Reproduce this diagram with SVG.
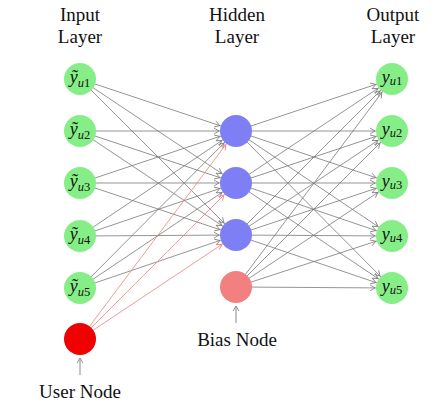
<svg xmlns="http://www.w3.org/2000/svg" width="442" height="416" viewBox="0 0 442 416">
<style>
text{font-family:"Liberation Serif","DejaVu Serif",serif;fill:#111}
.lbl{font-size:19px;text-anchor:middle}
.nt{font-size:18px;text-anchor:middle;font-style:italic}
.sub{font-size:12.5px}
.c{stroke:#7a7a7a;stroke-width:0.8;fill:none;marker-end:url(#ag)}
.r{stroke:#ee8080;stroke-width:0.8;fill:none;marker-end:url(#ar)}
.in{fill:#86ee86}
.hid{fill:#7f7ff5}
.bias{fill:#f38080}
.user{fill:#f00000}
.pt{stroke:#888;stroke-width:1;fill:none;marker-end:url(#ap)}
</style>
<defs>
<marker id="ag" markerUnits="userSpaceOnUse" markerWidth="1" markerHeight="1" refX="0" refY="0" orient="auto" overflow="visible">
<path d="M-22,-3 L-17,0 L-22,3" fill="none" stroke="#7a7a7a" stroke-width="0.8"/>
</marker>
<marker id="ar" markerUnits="userSpaceOnUse" markerWidth="1" markerHeight="1" refX="0" refY="0" orient="auto" overflow="visible">
<path d="M-22,-3 L-17,0 L-22,3" fill="none" stroke="#ee8080" stroke-width="0.8"/>
</marker>
<marker id="ap" markerUnits="userSpaceOnUse" markerWidth="1" markerHeight="1" refX="0" refY="0" orient="auto" overflow="visible">
<path d="M-5,-3 L0,0 L-5,3" fill="none" stroke="#888" stroke-width="0.9"/>
</marker>
</defs>
<g id="connectors">
<path class="c" d="M80,79L236,131"/><path class="c" d="M80,79L236,183"/><path class="c" d="M80,79L236,235"/>
<path class="c" d="M80,131L236,131"/><path class="c" d="M80,131L236,183"/><path class="c" d="M80,131L236,235"/>
<path class="c" d="M80,183L236,131"/><path class="c" d="M80,183L236,183"/><path class="c" d="M80,183L236,235"/>
<path class="c" d="M80,236L236,131"/><path class="c" d="M80,236L236,183"/><path class="c" d="M80,236L236,235"/>
<path class="c" d="M80,288L236,131"/><path class="c" d="M80,288L236,183"/><path class="c" d="M80,288L236,235"/>
<path class="r" d="M80,339L236,131"/><path class="r" d="M80,339L236,183"/><path class="r" d="M80,339L236,235"/>
<path class="c" d="M236,131L392,79"/><path class="c" d="M236,131L392,131"/><path class="c" d="M236,131L392,183"/><path class="c" d="M236,131L392,236"/><path class="c" d="M236,131L392,288"/>
<path class="c" d="M236,183L392,79"/><path class="c" d="M236,183L392,131"/><path class="c" d="M236,183L392,183"/><path class="c" d="M236,183L392,236"/><path class="c" d="M236,183L392,288"/>
<path class="c" d="M236,235L392,79"/><path class="c" d="M236,235L392,131"/><path class="c" d="M236,235L392,183"/><path class="c" d="M236,235L392,236"/><path class="c" d="M236,235L392,288"/>
<path class="c" d="M236,287L392,79"/><path class="c" d="M236,287L392,131"/><path class="c" d="M236,287L392,183"/><path class="c" d="M236,287L392,236"/><path class="c" d="M236,287L392,288"/>
<path class="pt" d="M80,375L80,358"/>
<path class="pt" d="M236,323L236,306"/>
</g>
<g id="labels">
<text class="lbl" x="80" y="21">Input</text><text class="lbl" x="80" y="43">Layer</text>
<text class="lbl" x="237" y="21">Hidden</text><text class="lbl" x="237" y="43">Layer</text>
<text class="lbl" x="393" y="21">Output</text><text class="lbl" x="393" y="43">Layer</text>
</g>
<g id="in1"><circle class="in" cx="80" cy="79" r="16"/><text class="nt" x="80" y="83">ỹ<tspan class="sub" dy="4">u</tspan><tspan class="sub" font-style="normal">1</tspan></text></g>
<g id="in2"><circle class="in" cx="80" cy="131" r="16"/><text class="nt" x="80" y="135">ỹ<tspan class="sub" dy="4">u</tspan><tspan class="sub" font-style="normal">2</tspan></text></g>
<g id="in3"><circle class="in" cx="80" cy="183" r="16"/><text class="nt" x="80" y="187">ỹ<tspan class="sub" dy="4">u</tspan><tspan class="sub" font-style="normal">3</tspan></text></g>
<g id="in4"><circle class="in" cx="80" cy="236" r="16"/><text class="nt" x="80" y="240">ỹ<tspan class="sub" dy="4">u</tspan><tspan class="sub" font-style="normal">4</tspan></text></g>
<g id="in5"><circle class="in" cx="80" cy="288" r="16"/><text class="nt" x="80" y="292">ỹ<tspan class="sub" dy="4">u</tspan><tspan class="sub" font-style="normal">5</tspan></text></g>
<g id="user"><circle class="user" cx="80" cy="339" r="16"/><text class="lbl" x="80" y="398">User Node</text></g>
<g id="h1"><circle class="hid" cx="236" cy="131" r="16"/></g>
<g id="h2"><circle class="hid" cx="236" cy="183" r="16"/></g>
<g id="h3"><circle class="hid" cx="236" cy="235" r="16"/></g>
<g id="bias"><circle class="bias" cx="236" cy="287" r="16"/><text class="lbl" x="237" y="346">Bias Node</text></g>
<g id="out1"><circle class="in" cx="392" cy="79" r="16"/><text class="nt" x="392" y="83">y<tspan class="sub" dy="2">u</tspan><tspan class="sub" font-style="normal">1</tspan></text></g>
<g id="out2"><circle class="in" cx="392" cy="131" r="16"/><text class="nt" x="392" y="135">y<tspan class="sub" dy="2">u</tspan><tspan class="sub" font-style="normal">2</tspan></text></g>
<g id="out3"><circle class="in" cx="392" cy="183" r="16"/><text class="nt" x="392" y="187">y<tspan class="sub" dy="2">u</tspan><tspan class="sub" font-style="normal">3</tspan></text></g>
<g id="out4"><circle class="in" cx="392" cy="236" r="16"/><text class="nt" x="392" y="240">y<tspan class="sub" dy="2">u</tspan><tspan class="sub" font-style="normal">4</tspan></text></g>
<g id="out5"><circle class="in" cx="392" cy="288" r="16"/><text class="nt" x="392" y="292">y<tspan class="sub" dy="2">u</tspan><tspan class="sub" font-style="normal">5</tspan></text></g>
</svg>
